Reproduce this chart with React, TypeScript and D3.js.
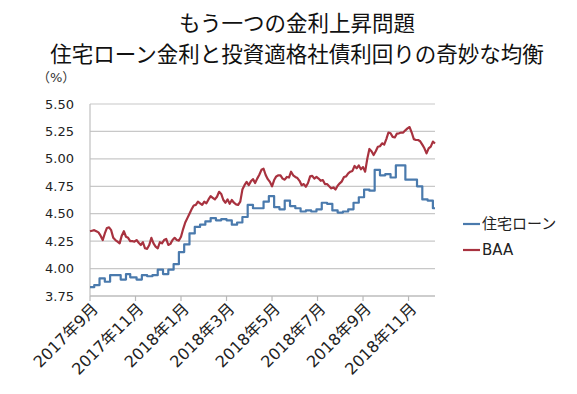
import { useMemo } from "react";
import * as d3 from "d3";

const WIDTH = 577;
const HEIGHT = 394;
const MARGIN = { top: 104, right: 142, bottom: 98, left: 90 };

const TITLE_LINES = ["もう一つの金利上昇問題", "住宅ローン金利と投資適格社債利回りの奇妙な均衡"];
const UNIT_LABEL = "（%）";
const SERIES_NAMES = ["住宅ローン", "BAA"];
const SERIES_COLORS = ["#4a7aad", "#a8323f"];

const Y_TICKS = [3.75, 4.0, 4.25, 4.5, 4.75, 5.0, 5.25, 5.5];
const X_TICK_LABELS = [
  "2017年9月",
  "2017年11月",
  "2018年1月",
  "2018年3月",
  "2018年5月",
  "2018年7月",
  "2018年9月",
  "2018年11月",
];
// category axis (trading days), a labelled tick every 43 days
const TICK_EVERY = 43;
const FIRST_DAY = new Date(2017, 8, 29);
const LAST_DAY = new Date(2018, 11, 31);

// 住宅ローン: weekly survey, held flat until the next release
const mortgageDates = [
  "2017-09-28", "2017-10-05", "2017-10-12", "2017-10-19", "2017-10-26", "2017-11-02",
  "2017-11-09", "2017-11-16", "2017-11-22", "2017-11-30", "2017-12-07", "2017-12-14",
  "2017-12-21", "2017-12-28", "2018-01-04", "2018-01-11", "2018-01-18", "2018-01-25",
  "2018-02-01", "2018-02-08", "2018-02-15", "2018-02-22", "2018-03-01", "2018-03-08",
  "2018-03-15", "2018-03-22", "2018-03-29", "2018-04-05", "2018-04-12", "2018-04-19",
  "2018-04-26", "2018-05-03", "2018-05-10", "2018-05-17", "2018-05-24", "2018-05-31",
  "2018-06-07", "2018-06-14", "2018-06-21", "2018-06-28", "2018-07-05", "2018-07-12",
  "2018-07-19", "2018-07-26", "2018-08-02", "2018-08-09", "2018-08-16", "2018-08-23",
  "2018-08-30", "2018-09-06", "2018-09-13", "2018-09-20", "2018-09-27", "2018-10-04",
  "2018-10-11", "2018-10-18", "2018-10-25", "2018-11-01", "2018-11-08", "2018-11-15",
  "2018-11-21", "2018-11-29", "2018-12-06", "2018-12-13", "2018-12-20", "2018-12-27",
];
const mortgageValues = [
  3.83, 3.85, 3.91, 3.88, 3.94, 3.94,
  3.9, 3.95, 3.92, 3.9, 3.94, 3.93,
  3.94, 3.99, 3.95, 3.99, 4.04, 4.15,
  4.22, 4.32, 4.38, 4.4, 4.43, 4.46,
  4.44, 4.45, 4.44, 4.4, 4.42, 4.47,
  4.58, 4.55, 4.55, 4.61, 4.66, 4.56,
  4.54, 4.62, 4.57, 4.55, 4.52, 4.53,
  4.52, 4.54, 4.6, 4.59, 4.53, 4.51,
  4.52, 4.54, 4.6, 4.65, 4.72, 4.71,
  4.9, 4.85, 4.86, 4.83, 4.94, 4.94,
  4.81, 4.81, 4.75, 4.63, 4.62, 4.55,
];

// BAA: every other trading day from FIRST_DAY
const baaValues = [
  4.34, 4.345, 4.35, 4.34, 4.33, 4.3, 4.26, 4.32, 4.37, 4.375,
  4.35, 4.28, 4.26, 4.245, 4.23, 4.3, 4.34, 4.29, 4.28, 4.25,
  4.25, 4.245, 4.26, 4.235, 4.215, 4.24, 4.185, 4.18, 4.215, 4.28,
  4.23, 4.2, 4.185, 4.24, 4.23, 4.26, 4.27, 4.215, 4.225, 4.26,
  4.28, 4.26, 4.255, 4.29, 4.36, 4.42, 4.46, 4.5, 4.54, 4.575,
  4.58, 4.61, 4.595, 4.58, 4.61, 4.595, 4.63, 4.66, 4.645, 4.63,
  4.655, 4.7, 4.68, 4.625, 4.6, 4.63, 4.59, 4.625, 4.6, 4.585,
  4.58, 4.61, 4.72, 4.76, 4.79, 4.76, 4.795, 4.815, 4.78, 4.82,
  4.855, 4.9, 4.91, 4.853, 4.815, 4.79, 4.75, 4.807, 4.84, 4.85,
  4.85, 4.82, 4.81, 4.835, 4.83, 4.883, 4.85, 4.835, 4.825, 4.8,
  4.76, 4.77, 4.746, 4.78, 4.84, 4.845, 4.82, 4.835, 4.82, 4.8,
  4.807, 4.77, 4.77, 4.75, 4.731, 4.74, 4.72, 4.755, 4.777, 4.795,
  4.835, 4.84, 4.868, 4.883, 4.89, 4.935, 4.914, 4.94, 4.905, 4.925,
  4.883, 5.0, 5.09, 5.07, 5.035, 5.07, 5.11, 5.115, 5.142, 5.13,
  5.18, 5.24, 5.233, 5.2, 5.195, 5.23, 5.233, 5.24, 5.24, 5.26,
  5.278, 5.29, 5.24, 5.18, 5.172, 5.172, 5.16, 5.13, 5.096, 5.05,
  5.095, 5.111, 5.157, 5.14,
];

type Pt = { idx: number; v: number };

const FONT = "'DejaVu Sans', 'Noto Sans CJK JP', sans-serif";
const TITLE_FONT = "'Noto Sans CJK JP', sans-serif";

export default function App() {
  const innerW = WIDTH - MARGIN.left - MARGIN.right;
  const innerH = HEIGHT - MARGIN.top - MARGIN.bottom;

  const days = useMemo(
    () =>
      d3
        .timeDay.range(FIRST_DAY, d3.timeDay.offset(LAST_DAY, 1))
        .filter((d) => d.getDay() !== 0 && d.getDay() !== 6),
    [],
  );

  const x = d3.scaleLinear().domain([0, days.length - 1]).range([0, innerW]);
  const y = d3.scaleLinear().domain([3.75, 5.5]).range([innerH, 0]);

  const mortgagePts = useMemo<Pt[]>(() => {
    const times = days.map((d) => d.getTime());
    const pts = mortgageDates.map((s, i) => {
      const t = d3.timeParse("%Y-%m-%d")(s)!.getTime();
      return { idx: Math.max(0, d3.bisectLeft(times, t)), v: mortgageValues[i] };
    });
    pts.push({ idx: days.length - 1, v: mortgageValues[mortgageValues.length - 1] });
    return pts;
  }, [days]);

  const baaPts = useMemo<Pt[]>(() => baaValues.map((v, i) => ({ idx: i * 2, v })), []);

  const stepLine = d3
    .line<Pt>()
    .x((p) => x(p.idx))
    .y((p) => y(p.v))
    .curve(d3.curveStepAfter);
  const plainLine = d3
    .line<Pt>()
    .x((p) => x(p.idx))
    .y((p) => y(p.v));

  const xTicks = d3.range(0, days.length, TICK_EVERY).slice(0, X_TICK_LABELS.length);

  return (
    <svg
      width={WIDTH}
      height={HEIGHT}
      style={{ position: "absolute", left: 0, top: 0, background: "#fff" }}
    >
      <g fontFamily={TITLE_FONT} fontSize={21.5} fill="#111" textAnchor="middle">
        <text x={297} y={31}>{TITLE_LINES[0]}</text>
        <text x={297} y={62}>{TITLE_LINES[1]}</text>
      </g>
      <text x={37} y={82} fontFamily={FONT} fontSize={13} fill="#333">
        {UNIT_LABEL}
      </text>

      <g transform={`translate(${MARGIN.left},${MARGIN.top})`}>
        {Y_TICKS.map((t) => (
          <g key={t}>
            <line x1={0} x2={innerW} y1={y(t)} y2={y(t)} stroke="#c8c8c8" strokeWidth={1.2} />
            <text
              x={-16}
              y={y(t)}
              dy="0.35em"
              textAnchor="end"
              fontFamily={FONT}
              fontSize={13}
              fill="#222"
            >
              {t.toFixed(2)}
            </text>
          </g>
        ))}
        <line x1={0} x2={0} y1={0} y2={innerH} stroke="#c0c0c0" strokeWidth={1.2} />
        <line x1={0} x2={innerW} y1={innerH} y2={innerH} stroke="#b8b8b8" strokeWidth={1.2} />
        {xTicks.map((t, i) => (
          <g key={t} transform={`translate(${x(t)},${innerH})`}>
            <line y1={0} y2={5} stroke="#b8b8b8" strokeWidth={1.2} />
            <text
              transform="translate(5,10) rotate(-45)"
              textAnchor="end"
              fontFamily={FONT}
              fontSize={16}
              fill="#222"
              dy="0.35em"
            >
              {X_TICK_LABELS[i]}
            </text>
          </g>
        ))}

        <path
          d={stepLine(mortgagePts) ?? ""}
          fill="none"
          stroke={SERIES_COLORS[0]}
          strokeWidth={2.2}
          strokeLinejoin="round"
        />
        <path
          d={plainLine(baaPts) ?? ""}
          fill="none"
          stroke={SERIES_COLORS[1]}
          strokeWidth={2.2}
          strokeLinejoin="round"
        />
      </g>

      <g fontFamily={FONT} fontSize={15} fill="#222">
        {SERIES_NAMES.map((name, i) => (
          <g key={name} transform={`translate(463,${224 + i * 26})`}>
            <line x1={0} x2={17} stroke={SERIES_COLORS[i]} strokeWidth={2.2} />
            <text x={19} dy="0.36em">
              {name}
            </text>
          </g>
        ))}
      </g>
    </svg>
  );
}
